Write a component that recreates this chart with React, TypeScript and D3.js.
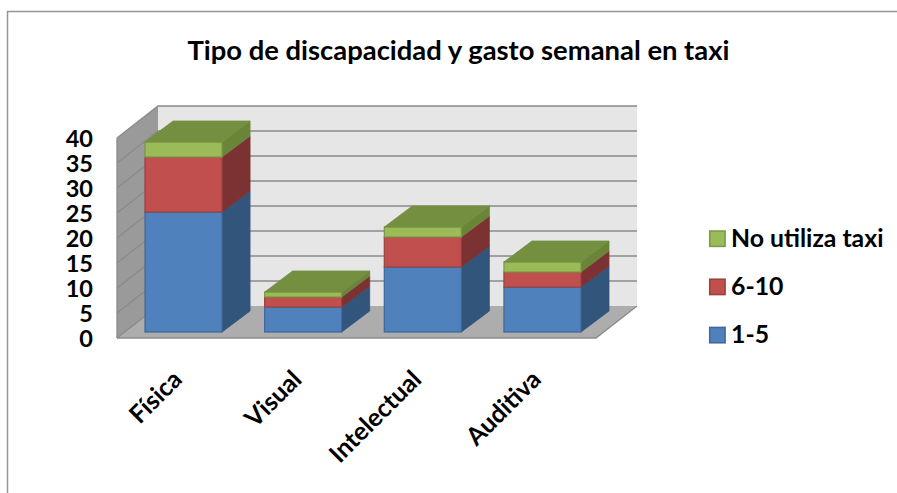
import React from "react";
import * as d3 from "d3";

const categories = ["Física", "Visual", "Intelectual", "Auditiva"];
const seriesNames = ["1-5", "6-10", "No utiliza taxi"];
const values15 = [24, 5, 13, 9];
const values610 = [11, 2, 6, 3];
const valuesNoTaxi = [3, 1, 2, 2];
const yTicks = [0, 5, 10, 15, 20, 25, 30, 35, 40];
const title = "Tipo de discapacidad y gasto semanal en taxi";

const front = ["#4f81bd", "#c0504d", "#9bbb59"];
const side = ["#31547c", "#7b3230", "#6b8439"];
const edge = ["#3f6797", "#9a403e", "#7c9647"];
const topFace = "#748f41";
const FONT = "Lato, Carlito, 'Open Sans', sans-serif";

const W = 897, H = 493;
const wallDx = 41, wallDy = -32;
const barDx = 28, barDy = -21;
const yFloor = d3.scaleLinear().domain([0, 40]).range([338, 138]);
const yBar = d3.scaleLinear().domain([0, 40]).range([332, 132]);
const x = d3.scaleBand().domain(categories).range([145, 581]).paddingInner(0.356).paddingOuter(0);
const stacked = d3.stack<number>()
  .keys([0, 1, 2] as any)
  .value((i: number, k: any) => [values15, values610, valuesNoTaxi][k][i])(categories.map((_, i) => i));

const poly = (p: number[][]) => "M" + p.map((q) => q.join(",")).join("L") + "Z";
const xL = 117, xR = 596;

const legendRows = [2, 1, 0];

export default function App() {
  const y0 = yFloor(0), y40 = yFloor(40);
  return (
    <svg width={W} height={H} style={{ position: "absolute", left: 0, top: 0, background: "#fff" }} fontFamily={FONT}>
      <defs>
        <filter id="soft" x="-5%" y="-5%" width="110%" height="110%">
          <feGaussianBlur stdDeviation="0.5" />
        </filter>
      </defs>
      <path d={`M7.5,${H}V11.5H${W}`} fill="none" stroke="#969696" strokeWidth={1.5} />
      <text x={458.5} y={60} textAnchor="middle" fontSize={27.4} fontWeight={700} fill="#000">{title}</text>

      <g filter="url(#soft)">
        <path d={poly([[xL + wallDx, y40 + wallDy], [xL + wallDx + 479, y40 + wallDy], [xL + wallDx + 479, y0 + wallDy], [xL + wallDx, y0 + wallDy]])} fill="#e6e6e6" />
        <path d={poly([[xL, y0], [xL + wallDx, y0 + wallDy], [xL + wallDx, y40 + wallDy], [xL, y40]])} fill="#9a9a9a" />
        <path d={poly([[xL, y0], [xR, y0], [xR + wallDx, y0 + wallDy], [xL + wallDx, y0 + wallDy]])} fill="#adadad" />
        {yTicks.map((t) => (
          <g key={t} fill="none" stroke="#8a8a8a" strokeWidth={1.3}>
            <path d={`M${xL},${yFloor(t)}L${xL + wallDx},${yFloor(t) + wallDy}H${xL + wallDx + (t === 0 ? 0 : 479)}`} />
          </g>
        ))}
        <path d={`M${xL},${y0}V${y40}`} stroke="#8a8a8a" strokeWidth={1.3} fill="none" />
        <path d={`M${xL},${y0}H${xR}L${xR + wallDx},${y0 + wallDy}`} stroke="#8a8a8a" strokeWidth={1.3} fill="none" />

        {categories.map((c, i) => {
          const xa = x(c)!, xb = xa + x.bandwidth();
          const topY = yBar(stacked[2][i][1]);
          return (
            <g key={c}>
              {stacked.map((s, k) => {
                const a = yBar(s[i][0]), b = yBar(s[i][1]);
                return (
                  <g key={k}>
                    <path d={poly([[xb, a], [xb + barDx, a + barDy], [xb + barDx, b + barDy], [xb, b]])} fill={side[k]} stroke={side[k]} strokeWidth={0.8} />
                    <rect x={xa} y={b} width={xb - xa} height={a - b} fill={front[k]} stroke={edge[k]} strokeWidth={1.2} />
                  </g>
                );
              })}
              <path d={poly([[xa, topY], [xb, topY], [xb + barDx, topY + barDy], [xa + barDx, topY + barDy]])} fill={topFace} stroke={topFace} strokeWidth={0.8} />
            </g>
          );
        })}
      </g>

      {yTicks.map((t) => (
        <text key={t} x={93} y={yFloor(t) + 8.5} textAnchor="end" fontSize={23.5} fontWeight={700} fill="#000">{t}</text>
      ))}
      {categories.map((c) => {
        const cx = x(c)! + x.bandwidth() / 2;
        return (
          <text key={c} transform={`translate(${cx},381) rotate(-45)`} textAnchor="end" fontSize={25} fontWeight={700} fill="#000">{c}</text>
        );
      })}
      {legendRows.map((k, i) => {
        const ly = 238.7 + i * 48.2;
        return (
          <g key={k}>
            <rect x={709.7} y={ly - 7.7} width={15.4} height={15.4} fill={front[k]} stroke={edge[k]} strokeWidth={1.5} />
            <text x={731} y={ly + 7.8} fontSize={24.8} fontWeight={700} fill="#000">{seriesNames[k]}</text>
          </g>
        );
      })}
    </svg>
  );
}
